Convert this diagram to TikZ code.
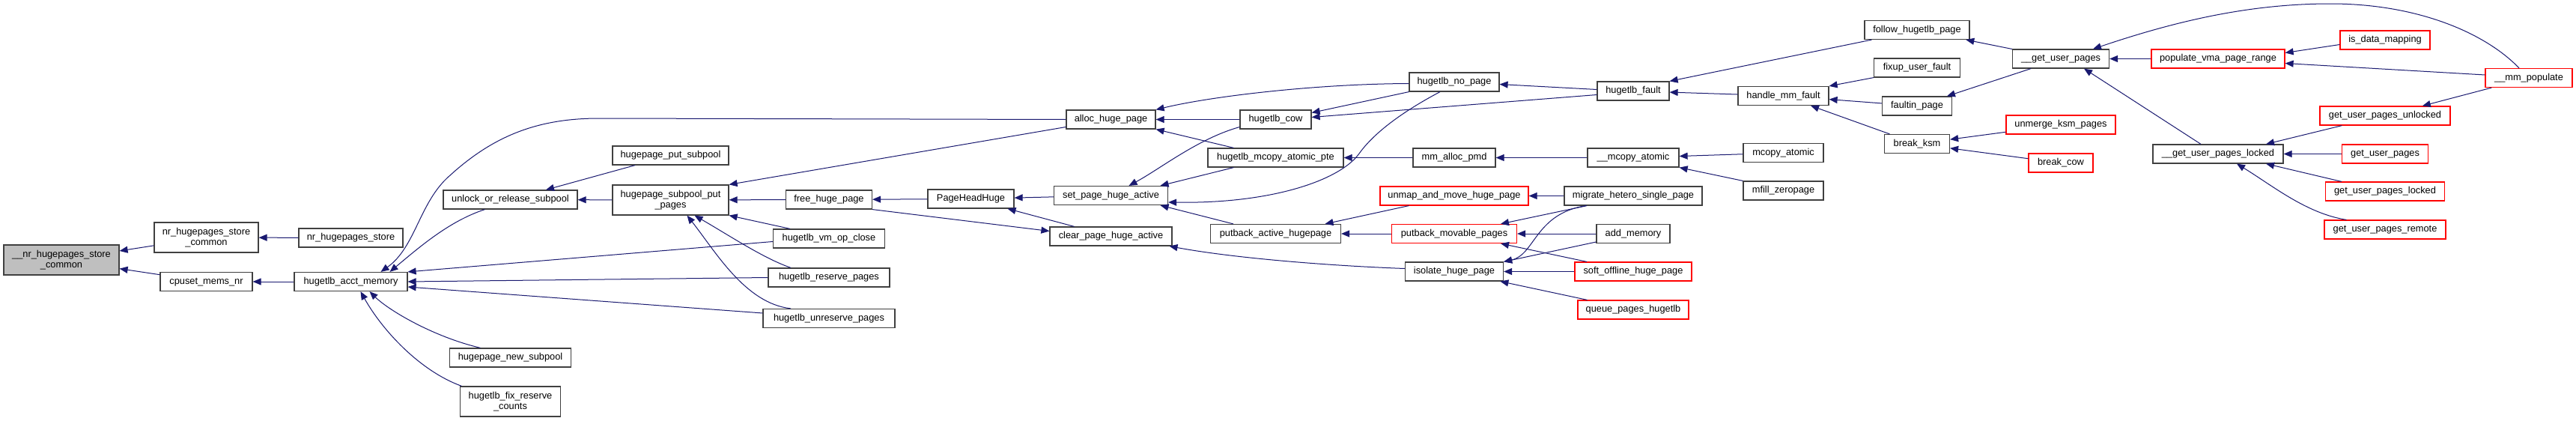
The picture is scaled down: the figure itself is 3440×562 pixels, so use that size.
\documentclass[tikz,border=0pt]{standalone}
\usepackage{fontspec}
\setmainfont{Liberation Sans}
\usepackage{tikz}
\usetikzlibrary{arrows.meta}
\definecolor{edgeblue}{HTML}{191970}
\definecolor{rootgray}{HTML}{BFBFBF}

\begin{document}
\begin{tikzpicture}[x=1pt,y=-1pt,>={Triangle[length=11pt,width=9pt]},
  font=\fontsize{12.8}{14}\selectfont,
  fn/.style={draw=black!75,line width=1.2pt,fill=white,inner sep=2pt,
    minimum height=25pt,align=center,text height=9pt,text depth=3pt},
  fntwo/.style={minimum height=40pt,text height={},text depth={}},
  fnred/.style={fn,draw=red},
  fnroot/.style={fn,fill=rootgray},
  call/.style={<-,draw=edgeblue,line width=1pt}]
  \path[use as bounding box,fill=white] (0,0) rectangle (3440,562);
  % function nodes, one column per rank
  \node[fnroot,fntwo,minimum width=154pt] (root) at (82,347) {\_\_nr\_hugepages\_store\\\_common};
  \node[fn,fntwo,minimum width=139pt] (nrsc) at (275.5,317) {nr\_hugepages\_store\\\_common};
  \node[fn,minimum width=123pt] (cpuset) at (275.5,376) {cpuset\_mems\_nr};
  \node[fn,minimum width=139pt] (nrs) at (468.5,317.5) {nr\_hugepages\_store};
  \node[fn,minimum width=151pt] (acct) at (468.5,376) {hugetlb\_acct\_memory};
  \node[fn,minimum width=179pt] (unlock) at (681.5,266.5) {unlock\_or\_release\_subpool};
  \node[fn,minimum width=162pt] (newsub) at (681.5,477.5) {hugepage\_new\_subpool};
  \node[fn,fntwo,minimum width=134pt] (fix) at (681.5,536) {hugetlb\_fix\_reserve\\\_counts};
  \node[fn,minimum width=155pt] (putsub) at (895.5,207.5) {hugepage\_put\_subpool};
  \node[fn,fntwo,minimum width=155pt] (sppp) at (895.5,267) {hugepage\_subpool\_put\\\_pages};
  \node[fn,minimum width=115pt] (free) at (1107,266.5) {free\_huge\_page};
  \node[fn,minimum width=149pt] (vmclose) at (1107,318.5) {hugetlb\_vm\_op\_close};
  \node[fn,minimum width=162pt] (reserve) at (1107,370.5) {hugetlb\_reserve\_pages};
  \node[fn,minimum width=176pt] (unreserve) at (1107,425) {hugetlb\_unreserve\_pages};
  \node[fn,minimum width=115pt] (phh) at (1296.5,265.5) {PageHeadHuge};
  \node[fn,minimum width=119pt] (alloc) at (1483.5,159.5) {alloc\_huge\_page};
  \node[fn,minimum width=152pt] (set) at (1483.5,261) {set\_page\_huge\_active};
  \node[fn,minimum width=163pt] (clear) at (1483.5,315.5) {clear\_page\_huge\_active};
  \node[fn,minimum width=95pt] (cow) at (1703.5,159.5) {hugetlb\_cow};
  \node[fn,minimum width=181pt] (mcpte) at (1703.5,210.5) {hugetlb\_mcopy\_atomic\_pte};
  \node[fn,minimum width=174pt] (pah) at (1703.5,312) {putback\_active\_hugepage};
  \node[fn,minimum width=120pt] (nopage) at (1942,109.5) {hugetlb\_no\_page};
  \node[fn,minimum width=110pt] (pmd) at (1942,210.5) {mm\_alloc\_pmd};
  \node[fnred,minimum width=198pt] (unmap) at (1942,261.5) {unmap\_and\_move\_huge\_page};
  \node[fnred,minimum width=167pt] (pmp) at (1942,312) {putback\_movable\_pages};
  \node[fn,minimum width=131pt] (isolate) at (1942,362.5) {isolate\_huge\_page};
  \node[fn,minimum width=96pt] (fault) at (2181,121.5) {hugetlb\_fault};
  \node[fn,minimum width=122pt] (mca) at (2181,210.5) {\_\_mcopy\_atomic};
  \node[fn,minimum width=184pt] (mhsp) at (2181,261.5) {migrate\_hetero\_single\_page};
  \node[fn,minimum width=98pt] (addmem) at (2181,312) {add\_memory};
  \node[fnred,minimum width=156pt] (soft) at (2181,362.5) {soft\_offline\_huge\_page};
  \node[fnred,minimum width=148pt] (queue) at (2181,413.5) {queue\_pages\_hugetlb};
  \node[fn,minimum width=121pt] (hmf) at (2381.5,128) {handle\_mm\_fault};
  \node[fn,minimum width=107pt] (mcopy) at (2381.5,204) {mcopy\_atomic};
  \node[fn,minimum width=107pt] (mfill) at (2381.5,254.5) {mfill\_zeropage};
  \node[fn,minimum width=140pt] (follow) at (2560,40) {follow\_hugetlb\_page};
  \node[fn,minimum width=115pt] (fixup) at (2560,90.5) {fixup\_user\_fault};
  \node[fn,minimum width=93pt] (faultin) at (2560,141.5) {faultin\_page};
  \node[fn,minimum width=87pt] (breakksm) at (2560,192) {break\_ksm};
  \node[fn,minimum width=129pt] (gup) at (2752,78.5) {\_\_get\_user\_pages};
  \node[fnred,minimum width=146pt] (unmerge) at (2752,166.5) {unmerge\_ksm\_pages};
  \node[fnred,minimum width=86pt] (breakcow) at (2752,217.5) {break\_cow};
  \node[fnred,minimum width=178pt] (pvpr) at (2962,78.5) {populate\_vma\_page\_range};
  \node[fn,minimum width=174pt] (gupl) at (2962,205.5) {\_\_get\_user\_pages\_locked};
  \node[fnred,minimum width=120pt] (isdata) at (3185,53.5) {is\_data\_mapping};
  \node[fnred,minimum width=174pt] (gupu) at (3185,154.5) {get\_user\_pages\_unlocked};
  \node[fnred,minimum width=115pt] (gupp) at (3185,205.5) {get\_user\_pages};
  \node[fnred,minimum width=159pt] (gupk) at (3185,255.5) {get\_user\_pages\_locked};
  \node[fnred,minimum width=162pt] (gupr) at (3185,306.5) {get\_user\_pages\_remote};
  \node[fnred,minimum width=116pt] (mmpop) at (3377,104) {\_\_mm\_populate};
  % calls into the root
  \draw[call] (root) -- (nrsc);
  \draw[call] (root) -- (cpuset);
  \draw[call] (nrsc) -- (nrs);
  \draw[call] (cpuset) -- (acct);
  % callers of hugetlb_acct_memory
  \draw[call] ([xshift=40pt]acct.north) .. controls (555,330) and (560,270) .. (600,235)
        .. controls (660,180) and (720,158) .. (800,158) -- (alloc.west);
  \draw[call] ([xshift=52pt]acct.north) .. controls (560,330) and (600,295) .. ([xshift=-34pt]unlock.south);
  \draw[call] (acct.north east) -- ([yshift=-4pt]vmclose.west);
  \draw[call] (acct.east) -- (reserve.west);
  \draw[call] ([yshift=-7pt]acct.east) -- ([yshift=7pt]unreserve.west);
  \draw[call] ([xshift=25pt]acct.south) .. controls (520,415) and (580,450) .. ([xshift=-40pt]newsub.north);
  \draw[call] ([xshift=13pt]acct.south) .. controls (510,440) and (560,495) .. ([xshift=-65pt]fix.north);
  % subpool
  \draw[call] (unlock) -- (putsub);
  \draw[call] (unlock) -- (sppp);
  \draw[call] (sppp) -- (free);
  \draw[call] (sppp.south east) -- ([xshift=-52pt]vmclose.north);
  \draw[call] ([xshift=32pt]sppp.south) .. controls (975,315) and (1020,345) .. ([xshift=-51pt]reserve.north);
  \draw[call] ([xshift=22pt]sppp.south) .. controls (955,335) and (995,405) .. ([xshift=-51pt]unreserve.north);
  \draw[call] (sppp.north east) -- ([yshift=-10pt]alloc.west);
  % huge page activity
  \draw[call] (free) -- (phh);
  \draw[call] ([yshift=7pt]clear.west) -- (free.south east);
  \draw[call] (phh) -- (set);
  \draw[call] (phh) -- (clear);
  \draw[call] (alloc) -- (cow);
  \draw[call] (alloc.north east) .. controls (1620,128) and (1760,112) .. ([yshift=-2pt]nopage.west);
  \draw[call] (alloc.south east) -- ([xshift=35pt]mcpte.north west);
  \draw[call] ([xshift=24pt]set.north) .. controls (1550,225) and (1600,185) .. ([yshift=-10pt]cow.west);
  \draw[call] ([xshift=66pt]set.north) -- ([xshift=35pt]mcpte.south west);
  \draw[call] ([yshift=-9pt]set.east) .. controls (1700,272) and (1790,240) .. (1815,205)
        .. controls (1840,170) and (1890,140) .. ([xshift=-19pt]nopage.south);
  \draw[call] ([xshift=66pt]set.south) -- ([xshift=31pt]pah.north west);
  \draw[call] ([xshift=78pt]clear.south) .. controls (1650,345) and (1780,355) .. ([yshift=4pt]isolate.west);
  \draw[call] ([yshift=9pt]cow.east) -- (nopage.south west);
  \draw[call] ([yshift=3pt]cow.east) -- ([yshift=-5pt]fault.west);
  \draw[call] ([yshift=-3pt]nopage.east) -- ([yshift=2pt]fault.west);
  \draw[call] (mcpte) -- (pmd);
  \draw[call] (pmd) -- (mca);
  % migration
  \draw[call] ([xshift=66pt]pah.north) -- ([xshift=39pt]unmap.south west);
  \draw[call] (pah) -- (pmp);
  \draw[call] (unmap) -- (mhsp);
  \draw[call] (pmp) -- (mhsp);
  \draw[call] (pmp) -- (addmem);
  \draw[call] (pmp) -- (soft);
  \draw[call] (isolate.north east) .. controls (2050,340) and (2050,285) .. ([xshift=-63pt]mhsp.south);
  \draw[call] (isolate.north east) -- ([yshift=-11pt]addmem.west);
  \draw[call] (isolate) -- (soft);
  \draw[call] (isolate) -- (queue);
  % faults
  \draw[call] (mca) -- (mcopy);
  \draw[call] (mca.south east) -- (mfill.north west);
  \draw[call] (fault) -- (hmf);
  \draw[call] (fault.north east) -- ([xshift=10pt]follow.south west);
  \draw[call] (hmf.north east) -- (fixup.south west);
  \draw[call] (hmf) -- (faultin);
  \draw[call] (hmf) -- (breakksm);
  \draw[call] (follow) -- (gup);
  \draw[call] (faultin) -- (gup);
  \draw[call] (breakksm) -- (unmerge);
  \draw[call] (breakksm) -- (breakcow);
  % get_user_pages family
  \draw[call] (gup) -- (pvpr);
  \draw[call] ([xshift=43pt]gup.north) .. controls (2900,30) and (3000,5) .. (3112,5)
        .. controls (3230,5) and (3320,45) .. ([xshift=-13pt]mmpop.north);
  \draw[call] ([xshift=31pt]gup.south) -- ([xshift=-23pt]gupl.north);
  \draw[call] ([yshift=8pt]pvpr.east) -- ([yshift=-6pt]isdata.west);
  \draw[call] ([yshift=-6pt]pvpr.east) -- ([yshift=4pt]mmpop.west);
  \draw[call] (gupu) -- (mmpop);
  \draw[call] ([xshift=64pt]gupl.north) -- ([xshift=30pt]gupu.south west);
  \draw[call] (gupl) -- (gupp);
  \draw[call] ([xshift=64pt]gupl.south) -- ([xshift=22pt]gupk.north west);
  \draw[call] ([xshift=25pt]gupl.south) .. controls (3035,248) and (3080,285) .. ([xshift=30pt]gupr.north west);
\end{tikzpicture}
\end{document}
